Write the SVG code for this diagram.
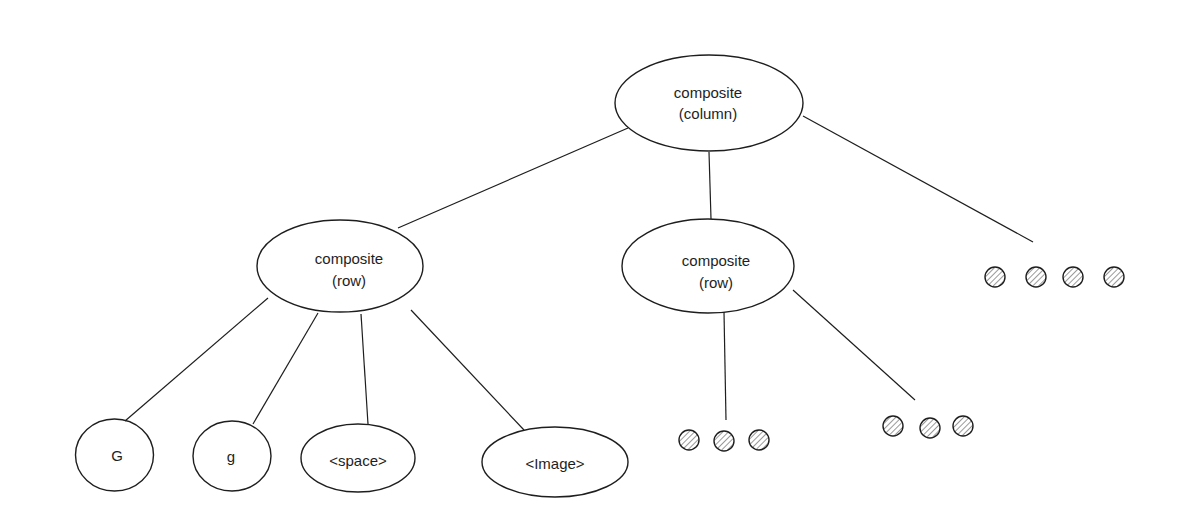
<svg xmlns="http://www.w3.org/2000/svg" width="1199" height="526" viewBox="0 0 1199 526">
<style>
.node{fill:none;stroke:#1e1e1e;stroke-width:1.4}
.dot{fill:url(#hatch);stroke:#1e1e1e;stroke-width:1.4}
.edge{stroke:#1e1e1e;stroke-width:1.2;fill:none}
text{font-family:"Liberation Sans",Arial,sans-serif;font-size:15px;fill:#1e1e1e;text-anchor:middle;dominant-baseline:central}
</style>
<defs>
<pattern id="hatch" patternUnits="userSpaceOnUse" width="4" height="4" patternTransform="rotate(45)">
<rect width="4" height="4" fill="#fff"/>
<line x1="0" y1="0" x2="0" y2="4" stroke="#555" stroke-width="1.2"/>
</pattern>
</defs>
<rect width="1199" height="526" fill="#fff"/>
<g id="connectors">
<line class="edge" x1="628" y1="128" x2="398" y2="228"/>
<line class="edge" x1="709" y1="152" x2="711" y2="219"/>
<line class="edge" x1="803" y1="116" x2="1033" y2="242"/>
<line class="edge" x1="268" y1="298" x2="125" y2="421"/>
<line class="edge" x1="318" y1="313" x2="253" y2="424"/>
<line class="edge" x1="361" y1="314" x2="368" y2="424"/>
<line class="edge" x1="411" y1="310" x2="524" y2="430"/>
<line class="edge" x1="724" y1="312" x2="726" y2="420"/>
<line class="edge" x1="793" y1="290" x2="915" y2="400"/>
</g>
<g id="root">
<ellipse class="node" cx="709" cy="103" rx="94" ry="48"/>
<text x="708" y="92">composite</text>
<text x="708" y="113">(column)</text>
</g>
<g id="row-left">
<ellipse class="node" cx="340" cy="266" rx="83" ry="46"/>
<text x="349" y="258">composite</text>
<text x="349" y="280">(row)</text>
</g>
<g id="row-middle">
<ellipse class="node" cx="708" cy="266" rx="86" ry="47"/>
<text x="716" y="260">composite</text>
<text x="716" y="282">(row)</text>
</g>
<g id="leaf-G">
<ellipse class="node" cx="114.5" cy="455" rx="39" ry="36"/>
<text x="117" y="455">G</text>
</g>
<g id="leaf-g">
<ellipse class="node" cx="232" cy="456" rx="39" ry="35"/>
<text x="231" y="456">g</text>
</g>
<g id="leaf-space">
<ellipse class="node" cx="358" cy="458" rx="57" ry="34"/>
<text x="358" y="460">&lt;space&gt;</text>
</g>
<g id="leaf-image">
<ellipse class="node" cx="555" cy="462" rx="73" ry="35"/>
<text x="555" y="463">&lt;Image&gt;</text>
</g>
<g id="dots-right">
<circle class="dot" cx="995" cy="277" r="10"/>
<circle class="dot" cx="1036" cy="277" r="10"/>
<circle class="dot" cx="1073" cy="277" r="10"/>
<circle class="dot" cx="1114" cy="277" r="10"/>
</g>
<g id="dots-middle">
<circle class="dot" cx="689" cy="440" r="10"/>
<circle class="dot" cx="724" cy="441" r="10"/>
<circle class="dot" cx="759" cy="440" r="10"/>
</g>
<g id="dots-lower-right">
<circle class="dot" cx="893" cy="426" r="10"/>
<circle class="dot" cx="930" cy="428" r="10"/>
<circle class="dot" cx="963" cy="426" r="10"/>
</g>
</svg>
